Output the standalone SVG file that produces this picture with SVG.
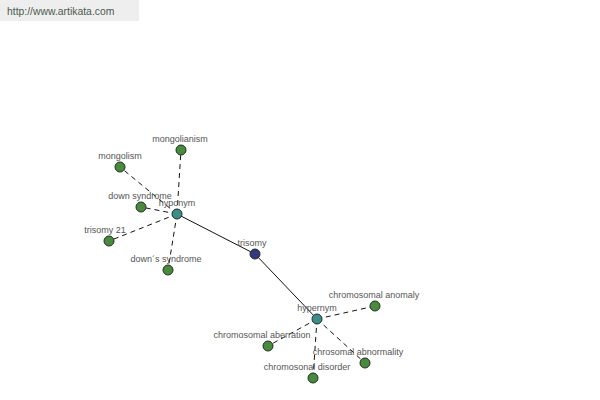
<svg xmlns="http://www.w3.org/2000/svg" width="600" height="400" viewBox="0 0 600 400">
<style>
.lbl{font-family:"Liberation Sans",Arial,sans-serif;font-size:9px;fill:#555;text-anchor:middle}
.n{stroke:#1f2f1f;stroke-width:1}
.g{fill:#4a8a3e}
.t{fill:#3f8c8c}
.b{fill:#34387e}
.d{stroke:#111;stroke-width:1;stroke-dasharray:5,4;fill:none}
.s{stroke:#111;stroke-width:1;fill:none}
</style>
<rect x="0" y="0" width="139" height="21" fill="#eeeeee"/>
<text x="7" y="15" font-family="'Liberation Sans',Arial,sans-serif" font-size="10.4" fill="#4d5a4d">http://www.artikata.com</text>
<g id="connectors">
<line class="s" x1="177" y1="214" x2="255" y2="254"/>
<line class="s" x1="255" y1="254" x2="317" y2="319"/>
<line class="d" x1="177" y1="214" x2="181" y2="150"/>
<line class="d" x1="177" y1="214" x2="120" y2="167"/>
<line class="d" x1="177" y1="214" x2="141" y2="207"/>
<line class="d" x1="177" y1="214" x2="109" y2="241"/>
<line class="d" x1="177" y1="214" x2="168" y2="270"/>
<line class="d" x1="317" y1="319" x2="375" y2="306"/>
<line class="d" x1="317" y1="319" x2="268" y2="346"/>
<line class="d" x1="317" y1="319" x2="365" y2="363"/>
<line class="d" x1="317" y1="319" x2="313" y2="378"/>
</g>
<g id="mongolianism"><circle class="n g" cx="181" cy="150" r="5"/><text class="lbl" x="180" y="142">mongolianism</text></g>
<g id="mongolism"><circle class="n g" cx="120" cy="167" r="5"/><text class="lbl" x="120" y="159">mongolism</text></g>
<g id="down-syndrome"><circle class="n g" cx="141" cy="207" r="5"/><text class="lbl" x="140" y="199">down syndrome</text></g>
<g id="trisomy-21"><circle class="n g" cx="109" cy="241" r="5"/><text class="lbl" x="105" y="233">trisomy 21</text></g>
<g id="downs-syndrome"><circle class="n g" cx="168" cy="270" r="5"/><text class="lbl" x="166" y="262">down´s syndrome</text></g>
<g id="hyponym"><circle class="n t" cx="177" cy="214" r="5"/><text class="lbl" x="177" y="206">hyponym</text></g>
<g id="trisomy"><circle class="n b" cx="255" cy="254" r="5"/><text class="lbl" x="252" y="246">trisomy</text></g>
<g id="hypernym"><circle class="n t" cx="317" cy="319" r="5"/><text class="lbl" x="317" y="311">hypernym</text></g>
<g id="chromosomal-anomaly"><circle class="n g" cx="375" cy="306" r="5"/><text class="lbl" x="374" y="298">chromosomal anomaly</text></g>
<g id="chromosomal-aberration"><circle class="n g" cx="268" cy="346" r="5"/><text class="lbl" x="262" y="338">chromosomal aberration</text></g>
<g id="chrosomal-abnormality"><circle class="n g" cx="365" cy="363" r="5"/><text class="lbl" x="358" y="355">chrosomal abnormality</text></g>
<g id="chromosonal-disorder"><circle class="n g" cx="313" cy="378" r="5"/><text class="lbl" x="307" y="370">chromosonal disorder</text></g>
</svg>
